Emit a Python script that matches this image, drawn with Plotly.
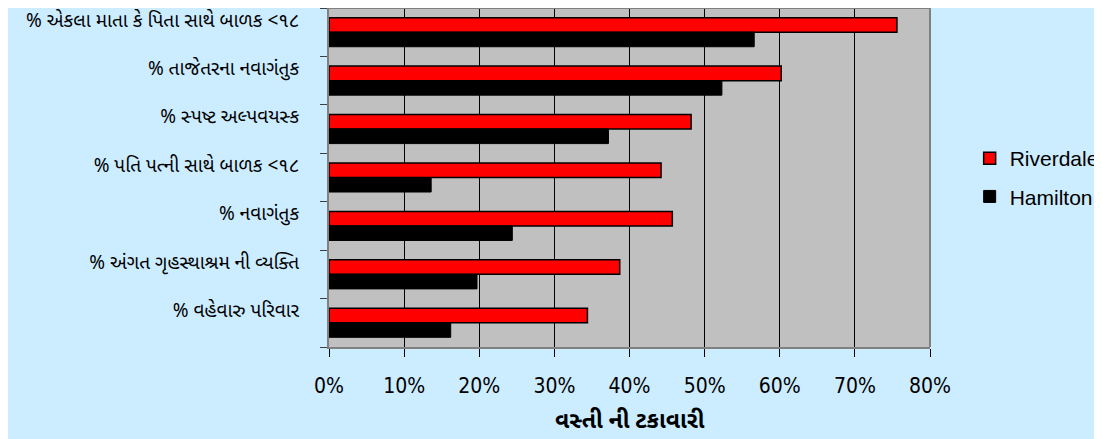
import plotly.graph_objects as go

categories = [
    "% એકલા માતા કે પિતા સાથે બાળક <૧૮",
    "% તાજેતરના નવાગંતુક",
    "% સ્પષ્ટ અલ્પવયસ્ક",
    "% પતિ પત્ની સાથે બાળક <૧૮",
    "% નવાગંતુક",
    "% અંગત ગૃહસ્થાશ્રમ ની વ્યક્તિ",
    "% વહેવારુ પરિવાર",
]
riverdale = [75.6, 60.2, 48.2, 44.2, 45.7, 38.7, 34.4]
hamilton = [56.6, 52.3, 37.2, 13.6, 24.4, 19.7, 16.2]
x_ticks = [0, 10, 20, 30, 40, 50, 60, 70, 80]
x_tick_labels = ["0%", "10%", "20%", "30%", "40%", "50%", "60%", "70%", "80%"]
x_title = "વસ્તી ની ટકાવારી"

fig = go.Figure()
fig.add_trace(go.Bar(
    y=categories, x=riverdale, orientation="h", name="Riverdale",
    legendgroup="r",
    marker=dict(color="#FF0000", line=dict(color="#000000", width=1.5)),
))
fig.add_trace(go.Bar(
    y=categories, x=hamilton, orientation="h", name="Hamilton",
    legendgroup="h",
    marker=dict(color="#000000", line=dict(color="#000000", width=1)),
))

fig.update_layout(
    width=1102, height=439,
    margin=dict(l=321, r=180, t=0, b=100, autoexpand=False),
    paper_bgcolor="#CCECFF",
    plot_bgcolor="#C0C0C0",
    barmode="group",
    bargap=0.4,
    bargroupgap=0.0,
    showlegend=True,
    legend=dict(
        x=1.066, xanchor="left", y=0.5, yanchor="middle",
        bgcolor="rgba(0,0,0,0)",
        font=dict(family="Liberation Sans, Arial, sans-serif", size=21, color="#000000"),
        tracegroupgap=8,
    ),
    font=dict(family="Noto Sans Gujarati, Noto Sans, sans-serif", color="#000000"),
    annotations=[dict(
        text="<b>" + x_title + "</b>", xref="paper", yref="paper",
        x=0.5, y=-0.222, xanchor="center", yanchor="middle", showarrow=False,
        font=dict(size=23, color="#000000"),
    )],
)

fig.update_xaxes(
    range=[0, 80],
    tickvals=x_ticks, ticktext=x_tick_labels,
    showgrid=True, gridcolor="#000000", gridwidth=1,
    showline=True, linecolor="#808080", linewidth=2,
    ticks="outside", ticklen=8, tickcolor="#000000", tickwidth=1,
    ticklabelstandoff=11,
    tickfont=dict(family="DejaVu Sans Condensed, Liberation Sans Narrow, Arial Narrow, Liberation Sans, sans-serif", size=21, color="#000000"),
    zeroline=False,
    mirror=False,
)
fig.update_yaxes(
    autorange="reversed",
    type="category",
    tickmode="array",
    tickvals=categories,
    ticktext=[c + "<br> " for c in categories],
    showline=True, linecolor="#808080", linewidth=2,
    ticks="outside", ticklen=7, tickcolor="#404040", tickwidth=1,
    tickson="boundaries",
    ticklabelstandoff=24,
    tickfont=dict(size=19, color="#000000"),
    showgrid=False,
)

# top and right border of plot area
fig.add_shape(type="line", xref="paper", yref="paper", x0=0, x1=1, y0=1, y1=1,
              line=dict(color="#808080", width=2))
fig.add_shape(type="line", xref="paper", yref="paper", x0=1, x1=1, y0=0, y1=1,
              line=dict(color="#808080", width=2))

fig.write_html("out.html")
